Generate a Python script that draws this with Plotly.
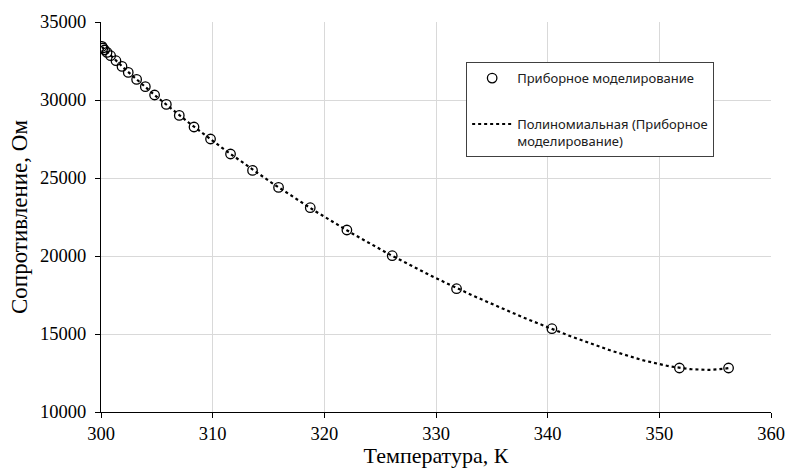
import numpy as np
import plotly.graph_objects as go

# Data
temperature_K = [300.09, 300.18, 300.32, 300.54, 300.86, 301.34, 301.88, 302.44, 303.19,
                 303.97, 304.80, 305.85, 307.01, 308.33, 309.81, 311.60, 313.57, 315.90,
                 318.74, 322.02, 326.08, 331.84, 340.38, 351.80, 356.20]
resistance_Ohm = [33436, 33333, 33205, 33051, 32840, 32519, 32154, 31769, 31321,
                  30853, 30321, 29718, 29013, 28269, 27500, 26538, 25487, 24397,
                  23096, 21667, 20019, 17904, 15340, 12820, 12820]

series_name = "Приборное моделирование"
trend_name = "Полиномиальная (Приборное<br>моделирование)"
x_title = "Температура, К"
y_title = "Сопротивление, Ом"
x_ticks = [300, 310, 320, 330, 340, 350, 360]
y_ticks = [10000, 15000, 20000, 25000, 30000, 35000]
y_tick_labels = ["10000", "15000", "20000", "25000", "30000", "35000"]

# Polynomial trendline (as Excel's polynomial trendline) fitted to the data
t = np.array(temperature_K)
r = np.array(resistance_Ohm)
t0 = 300.0
coef = np.polyfit(t - t0, r, 6)
t_fit = np.linspace(t.min(), t.max(), 300)
r_fit = np.polyval(coef, t_fit - t0)

fig = go.Figure()
fig.add_trace(go.Scatter(
    x=temperature_K, y=resistance_Ohm, mode="markers", name=series_name,
    legendgroup="a",
    marker=dict(symbol="circle-open", size=9.5, color="black", line=dict(width=1.3, color="black")),
))
fig.add_trace(go.Scatter(
    x=t_fit, y=r_fit, mode="lines", name=trend_name, legendgroup="b",
    line=dict(color="black", width=2.2, dash="dot"),
))

serif = "Liberation Serif"
fig.update_layout(
    width=787, height=468,
    margin=dict(l=101, r=16, t=22, b=56, autoexpand=False),
    paper_bgcolor="white", plot_bgcolor="white",
    showlegend=True,
    legend=dict(
        x=0.545, y=0.897, xanchor="left", yanchor="top",
        bgcolor="white", bordercolor="#404040", borderwidth=1,
        font=dict(family="Noto Sans", size=13, color="#202020"),
        tracegroupgap=26, valign="top", itemwidth=40,
    ),
    xaxis=dict(
        range=[300, 360], tickvals=x_ticks, ticks="outside", ticklen=5, tickcolor="black",
        showline=True, linecolor="black", linewidth=1.3, automargin=False,
        showgrid=True, gridcolor="#d9d9d9", gridwidth=1, zeroline=False,
        tickfont=dict(family=serif, size=18.5, color="black"),
        title=dict(text=x_title, font=dict(family=serif, size=22, color="black"), standoff=0),
    ),
    yaxis=dict(
        range=[10000, 35000], tickvals=y_ticks, ticktext=y_tick_labels,
        ticks="outside", ticklen=5, tickcolor="black", ticklabelstandoff=5,
        showline=True, linecolor="black", linewidth=1.3, automargin=False,
        showgrid=True, gridcolor="#d9d9d9", gridwidth=1, zeroline=False,
        tickfont=dict(family=serif, size=18.5, color="black"),
        title=dict(text=y_title, font=dict(family=serif, size=23, color="black"), standoff=5),
    ),
)

fig.write_html(
    "out.html",
    config={"displayModeBar": False},
    post_script="document.body.style.margin='0';document.body.style.overflow='hidden';",
)
